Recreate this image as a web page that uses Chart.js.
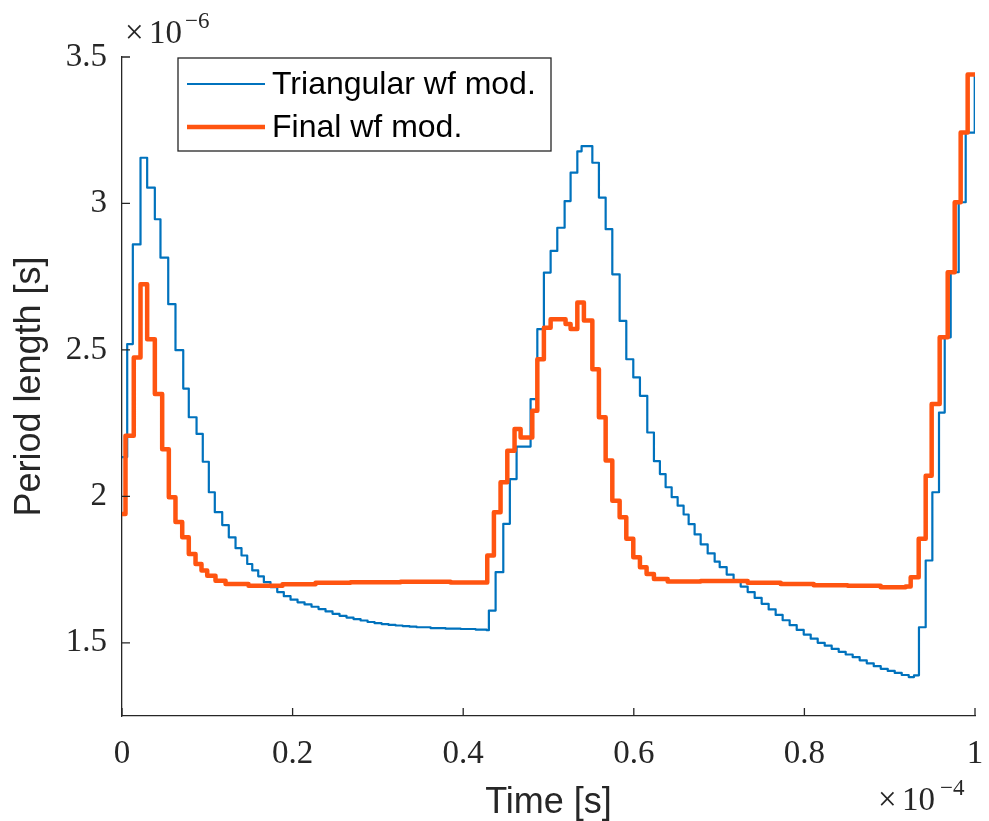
<!DOCTYPE html>
<html>
<head>
<meta charset="utf-8">
<title>Period length</title>
<script src="https://cdn.jsdelivr.net/npm/chart.js@4.4.1/dist/chart.umd.min.js"></script>
<style>
  html, body { margin: 0; padding: 0; background: #fff; }
  #periodChart { display: block; }
</style>
</head>
<body>
<canvas id="periodChart" width="989" height="821"></canvas>
<script>
// time in units of 1e-4 s, period length in units of 1e-6 s
// each point is where the stepped value starts
const triTime = [0, 0.0061, 0.0127, 0.0217, 0.0295, 0.0385, 0.0451, 0.0542, 0.0627, 0.0718,
  0.0783, 0.0874, 0.0947, 0.1018, 0.1088, 0.1175, 0.1252, 0.1331, 0.1401, 0.1468,
  0.1527, 0.1597, 0.1663, 0.1741, 0.182, 0.1897, 0.1976, 0.2058, 0.214, 0.2222,
  0.2304, 0.2386, 0.2468, 0.255, 0.2632, 0.2714, 0.2797, 0.2879, 0.2961, 0.3043,
  0.3125, 0.3207, 0.3289, 0.3371, 0.3453, 0.3618, 0.3793, 0.3969, 0.4145, 0.4274,
  0.4301, 0.438, 0.447, 0.4547, 0.4626, 0.479, 0.4869, 0.4946, 0.5025,
  0.5103, 0.5189, 0.5259, 0.5338, 0.5388, 0.5514, 0.5591, 0.567, 0.5748, 0.5834,
  0.5912, 0.5994, 0.6072, 0.6158, 0.6236, 0.6306, 0.6373, 0.6444, 0.6514, 0.6584,
  0.6643, 0.6713, 0.6784, 0.6866, 0.6948, 0.7007, 0.7089, 0.717, 0.7253, 0.7335,
  0.7417, 0.7499, 0.7581, 0.7663, 0.7745, 0.7827, 0.791, 0.7992, 0.8074, 0.8156,
  0.8238, 0.832, 0.8402, 0.8484, 0.8566, 0.8648, 0.8731, 0.8813, 0.8895, 0.8977,
  0.9059, 0.9141, 0.9223, 0.9285, 0.9343,
  0.9422, 0.95, 0.9578, 0.9645, 0.9715, 0.9809, 0.9891, 0.9997, 1];
const triPeriod = [2.134, 2.52, 2.86, 3.156, 3.054, 2.946, 2.815, 2.656, 2.499, 2.368,
  2.27, 2.213, 2.118, 2.014, 1.946, 1.902, 1.86, 1.823, 1.798, 1.769,
  1.747, 1.727, 1.707, 1.69, 1.673, 1.659, 1.647, 1.638, 1.631, 1.623,
  1.615, 1.607, 1.599, 1.592, 1.586, 1.581, 1.576, 1.571, 1.567, 1.564,
  1.561, 1.559, 1.557, 1.555, 1.553, 1.55, 1.548, 1.547, 1.545, 1.543,
  1.61, 1.741, 1.906, 2.059, 2.17, 2.332, 2.571, 2.764, 2.838,
  2.917, 3.008, 3.105, 3.178, 3.196, 3.139, 3.02, 2.912, 2.758, 2.599,
  2.468, 2.406, 2.343, 2.218, 2.12, 2.076, 2.031, 1.997, 1.968, 1.938,
  1.905, 1.87, 1.836, 1.805, 1.777, 1.758, 1.733, 1.712, 1.692, 1.673,
  1.653, 1.633, 1.614, 1.595, 1.577, 1.56, 1.544, 1.528, 1.514, 1.5,
  1.49, 1.479, 1.469, 1.46, 1.451, 1.44, 1.43, 1.42, 1.411, 1.404,
  1.397, 1.39, 1.383, 1.389, 1.553,
  1.781, 2.014, 2.286, 2.543, 2.765, 3.004, 3.242, 3.44, 3.44];

const finTime = [0, 0.0041, 0.0138, 0.0217, 0.0295, 0.0385, 0.0471, 0.0549, 0.0627, 0.0706,
  0.0783, 0.0862, 0.0932, 0.0999, 0.1096, 0.1214, 0.1483, 0.1882, 0.2269, 0.2679,
  0.3266, 0.3852, 0.4282, 0.436, 0.4438, 0.4517, 0.4602, 0.4673, 0.481, 0.4869,
  0.4946, 0.5025, 0.52, 0.5259, 0.5338, 0.5415, 0.5514, 0.5591, 0.567, 0.5748,
  0.5834, 0.5912, 0.5994, 0.6072, 0.615, 0.6236, 0.6397, 0.6784, 0.7335, 0.7722,
  0.8109, 0.8507, 0.8894, 0.9187, 0.9246, 0.934, 0.9422, 0.9492, 0.9586, 0.968,
  0.9762, 0.9832, 0.9914, 1];
const finPeriod = [1.94, 2.207, 2.474, 2.724, 2.536, 2.349, 2.161, 1.997, 1.912, 1.86,
  1.803, 1.769, 1.747, 1.729, 1.712, 1.701, 1.695, 1.7, 1.705, 1.707,
  1.708, 1.706, 1.798, 1.946, 2.048, 2.156, 2.23, 2.201, 2.292, 2.468,
  2.576, 2.605, 2.588, 2.571, 2.662, 2.6, 2.434, 2.27, 2.122, 1.985,
  1.929, 1.855, 1.792, 1.758, 1.735, 1.718, 1.709, 1.711, 1.705, 1.701,
  1.696, 1.695, 1.69, 1.692, 1.724, 1.855, 2.07, 2.315, 2.543, 2.765,
  3.004, 3.242, 3.44, 3.44];

const xTicks = [0, 0.2, 0.4, 0.6, 0.8, 1];
const yTicks = [1.5, 2, 2.5, 3, 3.5];

const axisColor = '#262626';
const serif = "'Liberation Serif', 'DejaVu Serif', serif";
const sans = "'Liberation Sans', Arial, sans-serif";

const toPoints = (xs, ys) => xs.map((x, i) => ({ x: x, y: ys[i] }));

// no extra room for overflowing tick labels, the axes box is fixed
const noPad = s => {
  s.paddingLeft = 0;
  s.paddingRight = 0;
  s.paddingTop = 0;
  s.paddingBottom = 0;
};

// MATLAB style ticks pointing into the axes
const inwardTicks = {
  id: 'inwardTicks',
  afterDraw(chart) {
    const ctx = chart.ctx;
    const { x, y } = chart.scales;
    const len = 8;
    ctx.save();
    ctx.strokeStyle = axisColor;
    ctx.lineWidth = 1.3;
    ctx.beginPath();
    x.ticks.forEach(t => {
      const px = x.getPixelForValue(t.value);
      ctx.moveTo(px, y.bottom);
      ctx.lineTo(px, y.bottom - len);
    });
    y.ticks.forEach(t => {
      const py = y.getPixelForValue(t.value);
      ctx.moveTo(x.left, py);
      ctx.lineTo(x.left + len, py);
    });
    ctx.stroke();
    ctx.restore();
  }
};

// boxed legend in the upper left corner
const boxLegend = {
  id: 'boxLegend',
  afterDraw(chart) {
    const ctx = chart.ctx;
    const area = chart.chartArea;
    const x0 = area.left + 56, y0 = area.top + 1, w = 373, h = 93;
    ctx.save();
    ctx.fillStyle = '#fff';
    ctx.fillRect(x0, y0, w, h);
    ctx.strokeStyle = axisColor;
    ctx.lineWidth = 1.3;
    ctx.strokeRect(x0, y0, w, h);
    ctx.font = '32px ' + sans;
    ctx.textBaseline = 'middle';
    ctx.textAlign = 'left';
    chart.data.datasets.forEach((ds, i) => {
      const rowY = y0 + 26 + i * 43;
      ctx.strokeStyle = ds.borderColor;
      ctx.lineWidth = ds.borderWidth;
      ctx.beginPath();
      ctx.moveTo(x0 + 9, rowY);
      ctx.lineTo(x0 + 87, rowY);
      ctx.stroke();
      ctx.fillStyle = '#000';
      ctx.fillText(ds.label, x0 + 94, rowY + 1);
    });
    ctx.restore();
  }
};

// the x10^n multipliers of both axes
const exponents = {
  id: 'exponents',
  afterDraw(chart) {
    const ctx = chart.ctx;
    const area = chart.chartArea;
    ctx.save();
    ctx.fillStyle = axisColor;
    ctx.textBaseline = 'alphabetic';
    ctx.textAlign = 'left';
    ctx.font = '33px ' + serif;
    ctx.fillText('\u00d7', area.left + 3, area.top - 14);
    ctx.fillText('10', area.left + 27, area.top - 14);
    ctx.fillText('\u00d7', area.right - 97, 810);
    ctx.fillText('10', area.right - 73, 810);
    ctx.font = '23px ' + serif;
    ctx.fillText('\u22126', area.left + 63, area.top - 29);
    ctx.fillText('\u22124', area.right - 35, 795);
    ctx.restore();
  }
};

const periodChart = new Chart(document.getElementById('periodChart'), {
  type: 'line',
  data: {
    datasets: [
      {
        label: 'Triangular wf mod.',
        data: toPoints(triTime, triPeriod),
        borderColor: '#0072BD',
        borderWidth: 2.2,
        order: 1
      },
      {
        label: 'Final wf mod.',
        data: toPoints(finTime, finPeriod),
        borderColor: '#FF5410',
        borderWidth: 4.5,
        order: 0
      }
    ]
  },
  options: {
    responsive: false,
    animation: false,
    devicePixelRatio: 1,
    layout: {
      autoPadding: false,
      padding: { top: 57, right: 14, bottom: 0, left: 0 }
    },
    datasets: {
      line: {
        stepped: true,
        pointRadius: 0,
        fill: false,
        borderJoinStyle: 'round',
        borderCapStyle: 'round'
      }
    },
    plugins: {
      legend: { display: false },
      tooltip: { enabled: false }
    },
    scales: {
      x: {
        type: 'linear',
        min: 0,
        max: 1,
        afterBuildTicks: s => { s.ticks = xTicks.map(v => ({ value: v })); },
        afterFit: s => { s.height = 105; noPad(s); },
        grid: { display: false, drawTicks: false },
        border: { color: axisColor, width: 1.3 },
        ticks: {
          color: axisColor,
          padding: 19,
          maxRotation: 0,
          font: { family: serif, size: 33 },
          callback: v => String(v)
        },
        title: {
          display: true,
          text: 'Time [s]',
          color: axisColor,
          padding: { top: 0, bottom: 0 },
          font: { family: sans, size: 36, lineHeight: 1 }
        }
      },
      y: {
        type: 'linear',
        min: 1.25,
        max: 3.5,
        afterBuildTicks: s => { s.ticks = yTicks.map(v => ({ value: v })); },
        afterFit: s => { s.width = 122; noPad(s); },
        grid: { display: false, drawTicks: false },
        border: { color: axisColor, width: 1.3 },
        ticks: {
          color: axisColor,
          padding: 15,
          font: { family: serif, size: 33 },
          callback: v => String(v)
        },
        title: {
          display: true,
          text: 'Period length [s]',
          color: axisColor,
          padding: { top: 12, bottom: 0 },
          font: { family: sans, size: 36, lineHeight: 1 }
        }
      }
    }
  },
  plugins: [inwardTicks, boxLegend, exponents]
});
</script>
</body>
</html>
